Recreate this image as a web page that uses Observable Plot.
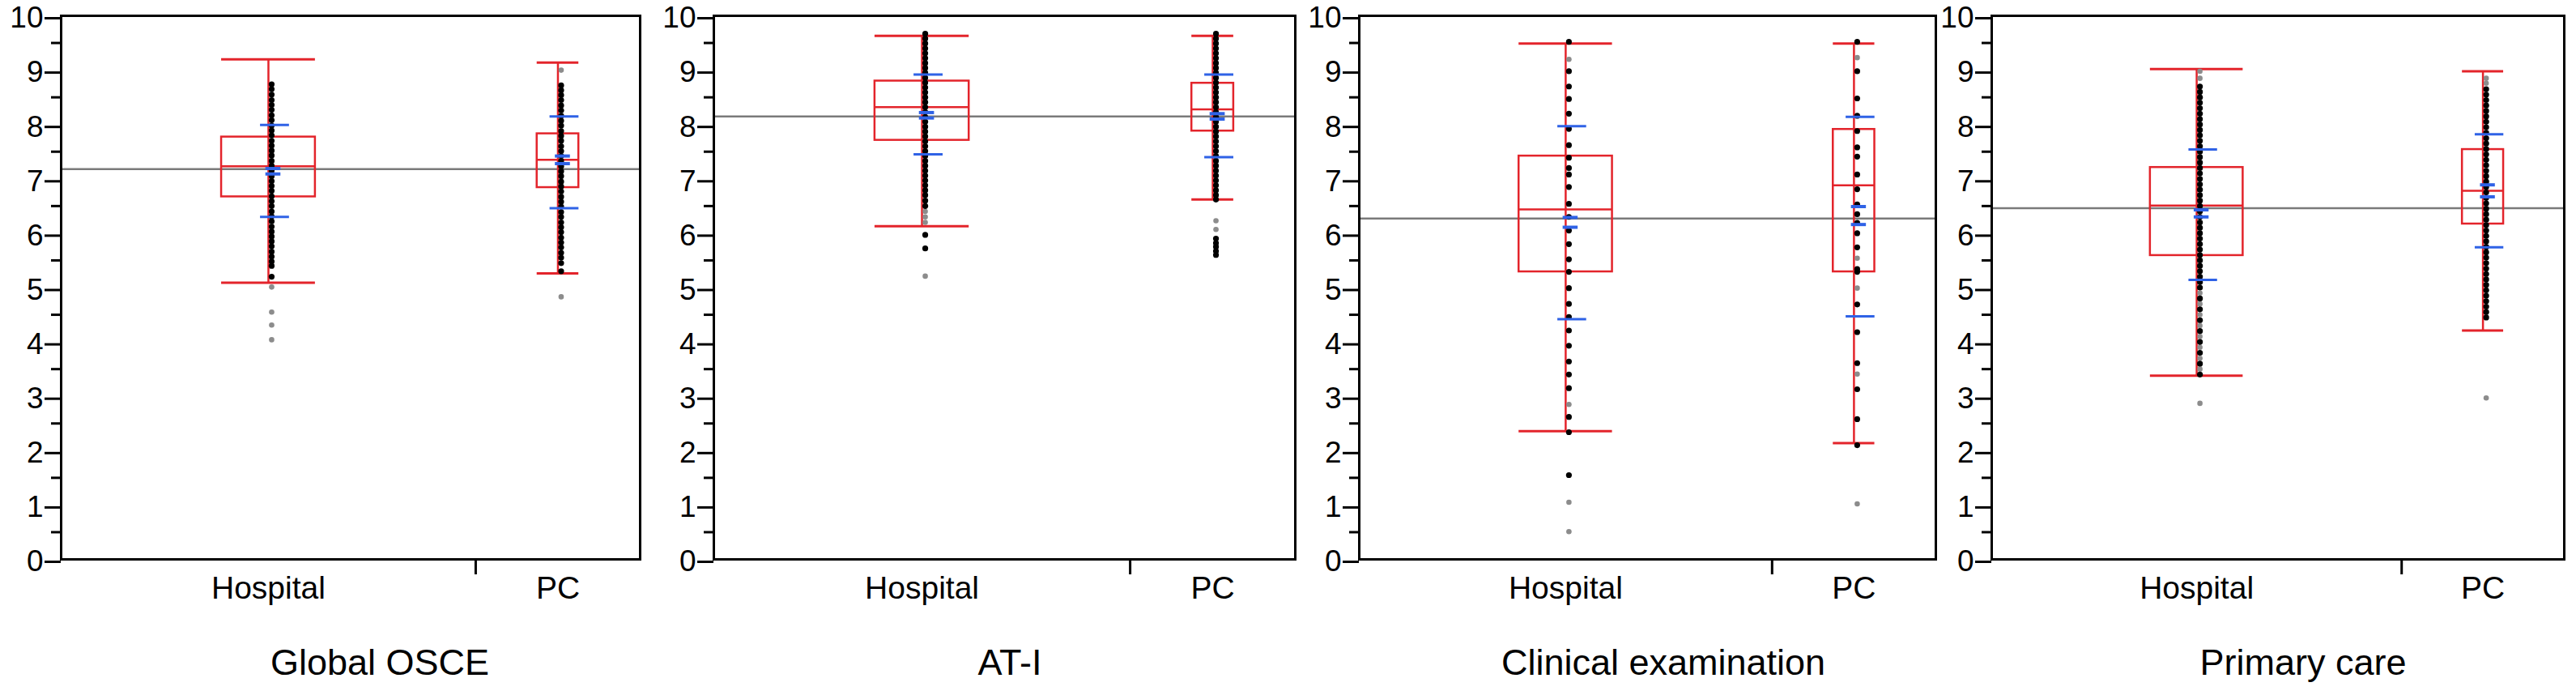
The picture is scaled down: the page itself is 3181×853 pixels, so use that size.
<!DOCTYPE html>
<html>
<head>
<meta charset="utf-8">
<script src="https://cdn.jsdelivr.net/npm/d3@7"></script>
<script src="https://cdn.jsdelivr.net/npm/@observablehq/plot@0.6"></script>
<style>
  html, body { margin: 0; padding: 0; background: #fff; }
  #root { position: relative; width: 3181px; height: 853px; background: #fff; overflow: hidden; }
  .panel { position: absolute; top: 0; }
  .title { position: absolute; top: 795px; width: 700px; text-align: center;
           font-family: "Liberation Sans", Arial, sans-serif; font-size: 45px; line-height: 45px; color: #000; }
</style>
</head>
<body>
<div id="root"></div>
<script>
// ---------------- DATA ----------------
const panelTitles = ["Global OSCE", "AT-I", "Clinical examination", "Primary care"];
const groups = ["Hospital", "PC"];
const groupShare = [0.716, 0.284];           // relative group size (x-axis band share)
const yTicks = [0, 1, 2, 3, 4, 5, 6, 7, 8, 9, 10];

// [panel][group]
const whiskerHigh = [[9.20, 9.14], [9.63, 9.63], [9.49, 9.49], [9.02, 8.98]];
const q3          = [[7.77, 7.83], [8.80, 8.76], [7.42, 7.91], [7.21, 7.54]];
const median      = [[7.23, 7.35], [8.32, 8.28], [6.44, 6.88], [6.51, 6.78]];
const q1          = [[6.67, 6.84], [7.71, 7.88], [5.29, 5.29], [5.59, 6.17]];
const whiskerLow  = [[5.09, 5.26], [6.13, 6.62], [2.36, 2.14], [3.38, 4.21]];
const sdHigh      = [[7.99, 8.15], [8.92, 8.92], [7.97, 8.14], [7.54, 7.82]];
const sdLow       = [[6.30, 6.46], [7.45, 7.40], [4.42, 4.47], [5.14, 5.74]];
const meanCIHigh  = [[7.19, 7.42], [8.22, 8.20], [6.29, 6.49], [6.43, 6.89]];
const meanCILow   = [[7.09, 7.28], [8.12, 8.10], [6.11, 6.16], [6.30, 6.67]];
const grandMean   = [7.18, 8.15, 6.27, 6.46];

// individual scores (black = regular, grey = faint/outlying)
const pointsBlack = [
  [ // Global OSCE
    [8.74, 8.65, 8.55, 8.45, 8.36, 8.27, 8.17, 8.08, 7.98, 7.89, 7.8, 7.7, 7.61, 7.52, 7.43, 7.33, 7.24, 7.15, 7.05, 6.96, 6.87, 6.78, 6.68, 6.59, 6.5, 6.4, 6.31, 6.22, 6.12, 6.03, 5.94, 5.85, 5.76, 5.66, 5.57, 5.48, 5.4, 5.2],
    [8.72, 8.63, 8.54, 8.45, 8.35, 8.26, 8.16, 8.07, 7.98, 7.88, 7.79, 7.7, 7.6, 7.51, 7.42, 7.33, 7.23, 7.14, 7.05, 6.95, 6.86, 6.77, 6.67, 6.58, 6.49, 6.39, 6.3, 6.2, 6.11, 6.02, 5.92, 5.83, 5.74, 5.64, 5.55, 5.45, 5.3]
  ],
  [ // AT-I
    [9.67, 9.58, 9.49, 9.4, 9.31, 9.22, 9.13, 9.04, 8.95, 8.86, 8.77, 8.68, 8.59, 8.5, 8.41, 8.32, 8.23, 8.14, 8.05, 7.96, 7.87, 7.78, 7.69, 7.6, 7.51, 7.42, 7.33, 7.24, 7.15, 7.06, 6.97, 6.88, 6.79, 6.7, 6.6, 6.5, 5.97, 5.72],
    [9.67, 9.58, 9.49, 9.4, 9.31, 9.22, 9.13, 9.04, 8.95, 8.86, 8.77, 8.68, 8.59, 8.5, 8.41, 8.32, 8.23, 8.14, 8.05, 7.96, 7.87, 7.78, 7.69, 7.6, 7.51, 7.42, 7.33, 7.24, 7.15, 7.06, 6.97, 6.88, 6.79, 6.7, 6.62, 5.9, 5.82, 5.75, 5.67, 5.6]
  ],
  [ // Clinical examination
    [9.52, 8.98, 8.7, 8.47, 8.2, 7.92, 7.62, 7.39, 7.2, 7.08, 6.85, 6.54, 6.3, 6.05, 5.8, 5.52, 5.29, 4.99, 4.7, 4.46, 4.21, 3.93, 3.64, 3.4, 3.15, 2.62, 2.34, 1.55],
    [9.52, 8.98, 8.48, 8.16, 7.88, 7.58, 7.41, 7.08, 6.81, 6.53, 6.35, 6.19, 6.0, 5.74, 5.34, 5.29, 4.69, 4.18, 3.61, 3.13, 2.58, 2.1]
  ],
  [ // Primary care
    [8.7, 8.6, 8.5, 8.4, 8.3, 8.2, 8.1, 8.0, 7.9, 7.8, 7.7, 7.6, 7.5, 7.4, 7.3, 7.2, 7.1, 7.0, 6.9, 6.8, 6.7, 6.6, 6.5, 6.4, 6.3, 6.2, 6.1, 6.0, 5.9, 5.8, 5.7, 5.6, 5.5, 5.4, 5.3, 5.2, 5.1, 5.0, 4.8, 4.6, 4.4, 4.2, 4.0, 3.8, 3.6, 3.4],
    [8.65, 8.55, 8.45, 8.35, 8.25, 8.15, 8.05, 7.95, 7.85, 7.75, 7.65, 7.55, 7.45, 7.35, 7.25, 7.15, 7.05, 6.95, 6.85, 6.75, 6.65, 6.55, 6.45, 6.35, 6.25, 6.15, 6.05, 5.95, 5.85, 5.75, 5.65, 5.55, 5.45, 5.35, 5.25, 5.15, 5.05, 4.95, 4.85, 4.75, 4.65, 4.55, 4.45]
  ]
];
const pointsGrey = [
  [[5.01, 4.55, 4.31, 4.04], [9.0, 4.83]],
  [[6.4, 6.3, 6.2, 5.21], [6.23, 6.07]],
  [[9.2, 2.85, 1.05, 0.51], [9.23, 5.54, 4.99, 3.41, 1.02]],
  [[8.98, 8.85, 4.9, 4.7, 4.5, 4.3, 4.1, 3.9, 3.7, 3.5, 2.87], [8.85, 8.76, 2.97]]
];

// ---------------- LAYOUT ----------------
const layout = [
  {left: 0, width: 792}, {left: 806, width: 795},
  {left: 1603, width: 789}, {left: 2384, width: 784}
];
const titleCenter = [469, 1247, 2054, 2844];
const boxHalf = [0.081, 0.036];
const RED = "#e3242b", BLUE = "#2f62e6", GREY = "#7a7a7a";
const FONT = "'Liberation Sans', Arial, Helvetica, sans-serif";

const centers = groups.map((g, i) => d3.sum(groupShare.slice(0, i)) + groupShare[i] / 2);
const separator = groupShare[0];
const nameOf = new Map(centers.map((c, i) => [c, groups[i]]));
const minorTicks = yTicks.slice(0, -1).map(t => t + 0.5);

const root = document.getElementById("root");

panelTitles.forEach((title, p) => {
  const stats = groups.map((g, i) => ({
    g, c: centers[i], half: boxHalf[i],
    hi: whiskerHigh[p][i], q3: q3[p][i], med: median[p][i], q1: q1[p][i], lo: whiskerLow[p][i],
    sdHi: sdHigh[p][i], sdLo: sdLow[p][i], ciHi: meanCIHigh[p][i], ciLo: meanCILow[p][i]
  }));
  const black = groups.flatMap((g, i) => pointsBlack[p][i].map(v => ({c: centers[i], v})));
  const grey = groups.flatMap((g, i) => pointsGrey[p][i].map(v => ({c: centers[i], v})));
  const bx1 = d => d.c - d.half, bx2 = d => d.c + d.half;
  const sx1 = d => d.c - 0.025, sx2 = d => d.c + 0.025;
  const cx1 = d => d.c - 0.013, cx2 = d => d.c + 0.013;

  const chart = Plot.plot({
    width: layout[p].width,
    height: 760,
    marginLeft: 75, marginRight: 2, marginTop: 19, marginBottom: 70,
    x: {domain: [0, 1], label: null},
    y: {domain: [0, 10], label: null},
    style: {fontFamily: FONT, background: "transparent", overflow: "visible", color: "#000"},
    marks: [
      Plot.ruleY([grandMean[p]], {stroke: GREY, strokeWidth: 2.5}),
      Plot.ruleX(stats, {x: "c", y1: "lo", y2: "hi", stroke: RED, strokeWidth: 2.5}),
      Plot.rect(stats, {x1: bx1, x2: bx2, y1: "q1", y2: "q3", stroke: RED, fill: "none", strokeWidth: 2.5}),
      Plot.ruleY(stats, {y: "med", x1: bx1, x2: bx2, stroke: RED, strokeWidth: 2.5}),
      Plot.ruleY(stats, {y: "hi", x1: bx1, x2: bx2, stroke: RED, strokeWidth: 3}),
      Plot.ruleY(stats, {y: "lo", x1: bx1, x2: bx2, stroke: RED, strokeWidth: 3}),
      Plot.dot(grey, {x: "c", y: "v", dx: 4, r: 3.3, fill: "#8c8c8c", stroke: "none"}),
      Plot.dot(black, {x: "c", y: "v", dx: 4, r: 3.6, fill: "#000", stroke: "none"}),
      Plot.ruleY(stats, {y: "sdHi", x1: sx1, x2: sx2, dx: 8, stroke: BLUE, strokeWidth: 3}),
      Plot.ruleY(stats, {y: "sdLo", x1: sx1, x2: sx2, dx: 8, stroke: BLUE, strokeWidth: 3}),
      Plot.ruleY(stats, {y: "ciHi", x1: cx1, x2: cx2, dx: 6, stroke: BLUE, strokeWidth: 4}),
      Plot.ruleY(stats, {y: "ciLo", x1: cx1, x2: cx2, dx: 6, stroke: BLUE, strokeWidth: 4}),
      Plot.frame({stroke: "#000", strokeWidth: 3}),
      Plot.axisY(yTicks, {label: null, tickSize: 20, tickPadding: 2, fontSize: 37, dy: 3, strokeWidth: 3, tickFormat: d => String(d)}),
      Plot.axisY(minorTicks, {label: null, tickSize: 12, strokeWidth: 3, tickFormat: () => ""}),
      Plot.axisX(centers, {label: null, tickSize: 0, tickPadding: 21, fontSize: 39, tickFormat: d => nameOf.get(d)}),
      Plot.axisX([separator], {label: null, tickSize: 19, strokeWidth: 3, tickFormat: () => ""})
    ]
  });

  const wrap = document.createElement("div");
  wrap.className = "panel";
  wrap.style.left = layout[p].left + "px";
  wrap.style.width = layout[p].width + "px";
  wrap.appendChild(chart);
  root.appendChild(wrap);

  const t = document.createElement("div");
  t.className = "title";
  t.style.left = (titleCenter[p] - 350) + "px";
  t.textContent = title;
  root.appendChild(t);
});
</script>
</body>
</html>
